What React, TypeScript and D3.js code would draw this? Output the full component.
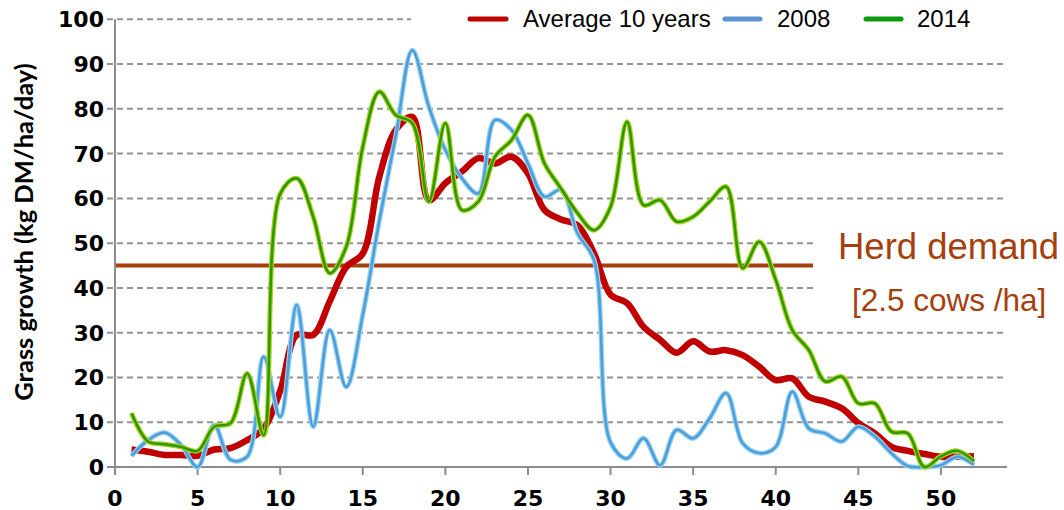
import React from "react";
import * as d3 from "d3";

// weeks of the year
const weeks = [
  1, 2, 3, 4, 5, 6, 7, 8, 9, 10, 11, 12, 13, 14, 15, 16, 17, 18, 19, 20, 21, 22, 23, 24, 25, 26,
  27, 28, 29, 30, 31, 32, 33, 34, 35, 36, 37, 38, 39, 40, 41, 42, 43, 44, 45, 46, 47, 48, 49, 50, 51, 52,
];

// kg DM/ha/day
const average10 = [
  3.9, 3.4, 2.7, 2.7, 2.5, 3.9, 4.2, 6, 8.6, 17, 29.5, 29.5, 37, 44.7, 47.7, 64.8, 75.3, 78.2, 59.6, 63.4,
  66, 69, 67.8, 69.3, 65.6, 57.4, 55.3, 54, 47.7, 38.5, 36.6, 31.3, 28.4, 25.5, 28.1, 25.8, 26.1, 25, 22.4,
  19.4, 19.8, 15.7, 14.6, 13.1, 9.8, 7.5, 4.5, 3.6, 2.9, 2.3, 2.3, 2.4,
];
const y2008 = [
  2.5, 6, 7.7, 4.9, 0, 9.4, 1.6, 2.3, 24.6, 11.2, 36.2, 9, 30.6, 17.9, 34, 55, 74, 93.1, 80.5, 70.8, 64.5,
  61.1, 77.5, 75.3, 67.8, 60.4, 61.9, 52.2, 46.2, 5.5, 1.9, 6.4, 0.4, 8.3, 6.4, 10.9, 16.5, 5.3, 3.1, 4.5,
  16.8, 8.6, 7.5, 5.7, 9, 6.8, 3.1, 0.2, 0, 0.4, 2.3, 0.5,
];
const y2014 = [
  12, 5.7, 5.1, 4.5, 3.6, 9, 9.8, 20.9, 7.1, 61, 64.5, 55.9, 43.3, 49.2, 71.5, 83.8, 78.6, 76.8, 59.3, 76.8,
  57.4, 59.3, 69.3, 73, 78.6, 67.8, 62.2, 56.7, 52.9, 58.1, 77.1, 58.5, 59.6, 54.8, 55.9, 59.3, 62.6, 44.4,
  50.3, 41.8, 30.6, 26.1, 19.1, 20.2, 14.2, 14.2, 7.9, 7.5, 0, 2.4, 3.6, 1.3,
];
const herdDemand = 45;

const yTicks = [0, 10, 20, 30, 40, 50, 60, 70, 80, 90, 100];
const xTicks = [0, 5, 10, 15, 20, 25, 30, 35, 40, 45, 50];

const W = 1064;
const H = 510;

export default function App() {
  const x = d3.scaleLinear().domain([0, 54]).range([115, 1007]);
  const y = d3.scaleLinear().domain([0, 100]).range([467, 19.3]);

  const line = d3
    .line<number>()
    .x((d, i) => x(weeks[i]))
    .y((d) => y(d))
    .curve(d3.curveCatmullRom.alpha(0.5));

  const tickFont = "'DejaVu Sans', sans-serif";
  const herdColor = "#A63F0C";

  return (
    <svg width={W} height={H} style={{ position: "absolute", left: 0, top: 0, background: "#fff" }}>
      {/* gridlines */}
      {yTicks
        .filter((t) => t > 0)
        .map((t) => (
          <line
            key={t}
            x1={107}
            x2={1007}
            y1={y(t)}
            y2={y(t)}
            stroke="#939393"
            strokeWidth={2}
            strokeDasharray="6,4"
          />
        ))}

      {/* white boxes behind legend and herd demand label */}
      <rect x={411} y={0} width={593} height={40} fill="#fff" />
      <rect x={814} y={212} width={200} height={108} fill="#fff" />

      {/* herd demand */}
      <line x1={x(0)} x2={813} y1={y(herdDemand)} y2={y(herdDemand)} stroke={herdColor} strokeWidth={4} />

      {/* axes */}
      <line x1={x(0)} x2={x(0)} y1={y(100)} y2={y(0)} stroke="#8c8c8c" strokeWidth={2} />
      <line x1={107} x2={1007} y1={y(0)} y2={y(0)} stroke="#8c8c8c" strokeWidth={2} />
      {xTicks.map((t) => (
        <line key={t} x1={x(t)} x2={x(t)} y1={y(0)} y2={y(0) + 8} stroke="#8c8c8c" strokeWidth={2} />
      ))}

      {/* series */}
      <path d={line(average10) || ""} fill="none" stroke="#C00000" strokeWidth={6.5} strokeLinejoin="round" />
      <path d={line(y2008) || ""} fill="none" stroke="#94D2F4" strokeWidth={5} strokeLinejoin="round" />
      <path d={line(y2008) || ""} fill="none" stroke="#4C9DD8" strokeWidth={2.5} strokeLinejoin="round" />
      <path d={line(y2014) || ""} fill="none" stroke="#A8D41E" strokeWidth={5} strokeLinejoin="round" />
      <path d={line(y2014) || ""} fill="none" stroke="#2E9600" strokeWidth={2.5} strokeLinejoin="round" />

      {/* tick labels */}
      {yTicks.map((t) => (
        <text
          key={t}
          x={104}
          y={y(t)}
          dy="0.36em"
          textAnchor="end"
          fontFamily={tickFont}
          fontWeight="bold"
          fontSize={22}
          fill="#000"
        >
          {t}
        </text>
      ))}
      {xTicks.map((t) => (
        <text
          key={t}
          x={x(t)}
          y={506}
          textAnchor="middle"
          fontFamily={tickFont}
          fontWeight="bold"
          fontSize={22}
          fill="#000"
        >
          {t}
        </text>
      ))}

      {/* y title */}
      <text
        transform="translate(33,232) rotate(-90)"
        textAnchor="middle"
        fontFamily="Lato, sans-serif"
        fontWeight="bold"
        fontSize={25.5}
        fill="#000"
      >
        Grass growth (kg DM/ha/day)
      </text>

      {/* legend */}
      <g fontFamily="'Liberation Sans', Arial, sans-serif" fontSize={24} fill="#000">
        <line x1={470} x2={506} y1={19} y2={19} stroke="#C00000" strokeWidth={5} strokeLinecap="round" />
        <text x={523} y={27}>Average 10 years</text>
        <line x1={725} x2={760} y1={19} y2={19} stroke="#5B93CF" strokeWidth={5} strokeLinecap="round" />
        <text x={777} y={27}>2008</text>
        <line x1={866} x2={901} y1={19} y2={19} stroke="#0A9A0A" strokeWidth={5} strokeLinecap="round" />
        <text x={917} y={27}>2014</text>
      </g>

      {/* herd demand label */}
      <g fontFamily="'Liberation Sans', Arial, sans-serif" fill={herdColor}>
        <text x={838} y={259} fontSize={36.5}>Herd demand</text>
        <text x={852} y={311} fontSize={31.5}>[2.5 cows /ha]</text>
      </g>
    </svg>
  );
}
